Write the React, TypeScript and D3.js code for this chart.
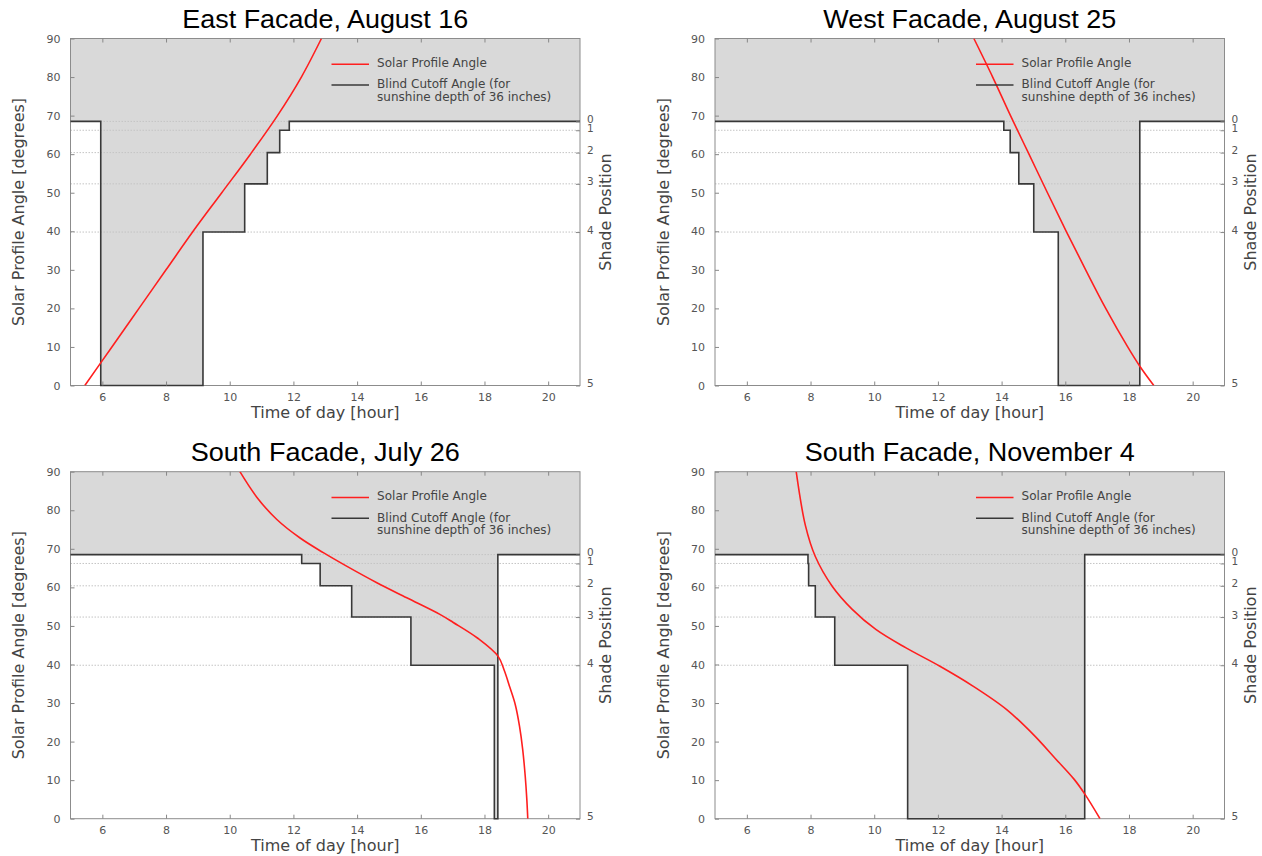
// @ts-nocheck
import React, { useEffect, useRef } from "react";
import * as d3 from "d3";

const hourTicks = [6, 8, 10, 12, 14, 16, 18, 20];
const angleTicks = [0, 10, 20, 30, 40, 50, 60, 70, 80, 90];
const shadePositions = [0, 1, 2, 3, 4, 5];
const shadeAngles = [68.5, 66.2, 60.4, 52.3, 39.8, 0];
const legendLabels = ["Solar Profile Angle", "Blind Cutoff Angle (for", "sunshine depth of 36 inches)"];
const titles = ["East Facade, August 16", "West Facade, August 25", "South Facade, July 26", "South Facade, November 4"];

// blind cutoff: hour where each shade position starts
const eastStepHours = [5, 5.95, 9.16, 10.47, 11.18, 11.57, 11.87, 21];
const eastStepPos = [0, 5, 4, 3, 2, 1, 0, 0];
const westStepHours = [5, 14.07, 14.27, 14.54, 15.01, 15.78, 18.34, 21];
const westStepPos = [0, 1, 2, 3, 4, 5, 0, 0];
const julyStepHours = [5, 12.26, 12.84, 13.83, 15.69, 18.31, 18.42, 21];
const julyStepPos = [0, 1, 2, 3, 4, 5, 0, 0];
const novStepHours = [5, 7.92, 7.94, 8.15, 8.76, 11.05, 16.61, 21];
const novStepPos = [0, 1, 2, 3, 4, 5, 0, 0];

// solar profile angle
const eastSunHours = [5.45, 6.3, 7.15, 8.0, 8.85, 9.75, 10.65, 11.5, 12.25, 12.88];
const eastSunAngles = [0, 10, 20, 30, 40, 50, 60, 70, 80, 90];
const westSunHours = [13.13, 13.72, 14.28, 14.86, 15.44, 16.03, 16.64, 17.27, 17.96, 18.34, 18.78];
const westSunAngles = [90, 80, 70, 60, 50, 40, 30, 20, 10, 5, 0];
const julySunHours = [10.32, 10.85, 11.48, 12.21, 12.94, 13.67, 14.62, 15.56, 16.6, 17.02, 17.79, 18.43, 18.62, 18.8, 18.97, 19.1, 19.2, 19.28, 19.33, 19.36];
const julySunAngles = [90, 83.4, 77.6, 72.8, 69, 65.5, 61.2, 57.3, 53, 50.9, 46.8, 42.1, 38.5, 34, 29.5, 24, 18, 11, 5, 0];
const novSunHours = [7.55, 7.84, 8.15, 8.68, 9.31, 10.05, 11.0, 12.05, 13.1, 14.16, 15.0, 15.7, 16.28, 16.62, 17.09];
const novSunAngles = [90, 76, 68, 60.3, 54.3, 49.1, 44.3, 39.6, 34.4, 28.3, 21.8, 15.5, 10.2, 6.3, 0];

const W = 509.5;
const H = 347;

const panels = [
  { title: titles[0], titleW: 286, stepHours: eastStepHours, stepPos: eastStepPos, sunHours: eastSunHours, sunAngles: eastSunAngles, left: 70.5, top: 38.5 },
  { title: titles[1], titleW: 293, stepHours: westStepHours, stepPos: westStepPos, sunHours: westSunHours, sunAngles: westSunAngles, left: 715, top: 38.5 },
  { title: titles[2], titleW: 269, stepHours: julyStepHours, stepPos: julyStepPos, sunHours: julySunHours, sunAngles: julySunAngles, left: 70.5, top: 471.7 },
  { title: titles[3], titleW: 330, stepHours: novStepHours, stepPos: novStepPos, sunHours: novSunHours, sunAngles: novSunAngles, left: 715, top: 471.7 },
];

const axisFont = "'DejaVu Sans', Verdana, sans-serif";

const App = () => {
  const svgRef = useRef();

  useEffect(() => {
    const svg = d3.select(svgRef.current);
    svg.selectAll("*").remove();

    panels.forEach((p, pi) => {
      const x = d3.scaleLinear().domain([5, 21]).range([p.left, p.left + W]);
      const y = d3.scaleLinear().domain([0, 90]).range([p.top + H, p.top]);
      const g = svg.append("g");

      const clipId = "clip" + pi;
      g.append("clipPath").attr("id", clipId)
        .append("rect").attr("x", p.left).attr("y", p.top).attr("width", W).attr("height", H);

      // title
      g.append("text")
        .attr("x", p.left + W / 2)
        .attr("y", p.top - 10.5)
        .attr("text-anchor", "middle")
        .attr("font-family", "'Liberation Sans', Arial, sans-serif")
        .attr("font-size", 25)
        .attr("textLength", p.titleW)
        .attr("lengthAdjust", "spacingAndGlyphs")
        .attr("fill", "#000")
        .text(p.title);

      const steps = p.stepHours.map((h, i) => ({ h, a: shadeAngles[p.stepPos[i]] }));

      // gray region above cutoff
      const area = d3.area()
        .x(d => x(d.h))
        .y0(y(90))
        .y1(d => y(d.a))
        .curve(d3.curveStepAfter);
      g.append("path").datum(steps).attr("d", area).attr("fill", "#d9d9d9");

      // shade position grid
      g.selectAll(".grid")
        .data(shadeAngles.slice(0, 5))
        .join("line")
        .attr("x1", p.left).attr("x2", p.left + W)
        .attr("y1", d => y(d)).attr("y2", d => y(d))
        .attr("stroke", "#c4c4c4")
        .attr("stroke-width", 1)
        .attr("stroke-dasharray", "1.5,1.5");

      // frame
      g.append("rect")
        .attr("x", p.left).attr("y", p.top).attr("width", W).attr("height", H)
        .attr("fill", "none").attr("stroke", "#8c8c8c").attr("stroke-width", 1);

      // cutoff line
      const stepLine = d3.line().x(d => x(d.h)).y(d => y(d.a)).curve(d3.curveStepAfter);
      g.append("path").datum(steps).attr("d", stepLine)
        .attr("fill", "none").attr("stroke", "#383838").attr("stroke-width", 1.6);

      // solar profile
      const sun = p.sunHours.map((h, i) => ({ h, a: p.sunAngles[i] }));
      const sunLine = d3.line().x(d => x(d.h)).y(d => y(d.a)).curve(d3.curveCatmullRom.alpha(0.5));
      g.append("path").datum(sun).attr("d", sunLine)
        .attr("clip-path", `url(#${clipId})`)
        .attr("fill", "none").attr("stroke", "#ff1f1f").attr("stroke-width", 1.6);

      // axes
      const styleAxis = sel => {
        sel.select(".domain").remove();
        sel.selectAll("line").attr("stroke", "#888");
        sel.selectAll("text").attr("fill", "#555").attr("font-size", 11).attr("font-family", axisFont);
      };
      g.append("g").attr("transform", `translate(${p.left},0)`)
        .call(d3.axisLeft(y).tickValues(angleTicks).tickSize(-4).tickPadding(10))
        .call(styleAxis);
      g.append("g").attr("transform", `translate(0,${p.top + H})`)
        .call(d3.axisBottom(x).tickValues(hourTicks).tickSize(-4).tickPadding(8))
        .call(styleAxis);
      g.append("g").attr("transform", `translate(0,${p.top})`)
        .call(d3.axisTop(x).tickValues(hourTicks).tickSize(-4).tickFormat(""))
        .call(styleAxis);
      const right = g.append("g").attr("transform", `translate(${p.left + W},0)`)
        .call(d3.axisRight(y).tickValues(shadeAngles).tickSize(-4).tickPadding(7)
          .tickFormat((d, i) => String(shadePositions[i])))
        .call(styleAxis);
      right.selectAll("text").attr("dy", "0.1em").attr("font-size", 10.5);

      // axis titles
      g.append("text")
        .attr("x", p.left + W / 2)
        .attr("y", p.top + H + 32)
        .attr("text-anchor", "middle")
        .attr("font-family", axisFont)
        .attr("font-size", 16)
        .attr("fill", "#444")
        .text("Time of day [hour]");
      g.append("text")
        .attr("transform", `translate(${p.left - 46.5},${p.top + H / 2}) rotate(-90)`)
        .attr("text-anchor", "middle")
        .attr("font-family", axisFont)
        .attr("font-size", 16)
        .attr("fill", "#444")
        .text("Solar Profile Angle [degrees]");
      g.append("text")
        .attr("transform", `translate(${p.left + W + 31},${p.top + H / 2}) rotate(-90)`)
        .attr("text-anchor", "middle")
        .attr("font-family", axisFont)
        .attr("font-size", 16)
        .attr("fill", "#444")
        .text("Shade Position");

      // legend
      const lx = p.left + 261;
      const ly = p.top + 25.8;
      g.append("line").attr("x1", lx).attr("x2", lx + 37.5).attr("y1", ly).attr("y2", ly)
        .attr("stroke", "#ff1f1f").attr("stroke-width", 1.6);
      g.append("line").attr("x1", lx).attr("x2", lx + 37.5).attr("y1", ly + 20.7).attr("y2", ly + 20.7)
        .attr("stroke", "#383838").attr("stroke-width", 1.6);
      const lt = g.append("text")
        .attr("font-family", axisFont)
        .attr("font-size", 12)
        .attr("fill", "#444");
      lt.append("tspan").attr("x", lx + 45.6).attr("y", ly + 2.2).text(legendLabels[0]);
      lt.append("tspan").attr("x", lx + 45.6).attr("y", ly + 24).text(legendLabels[1]);
      lt.append("tspan").attr("x", lx + 45.6).attr("y", ly + 36.5).text(legendLabels[2]);
    });
  }, []);

  return (
    <svg
      ref={svgRef}
      width={1262}
      height={856}
      style={{ position: "absolute", left: 0, top: 0, background: "#fff" }}
    />
  );
};

export default App;
